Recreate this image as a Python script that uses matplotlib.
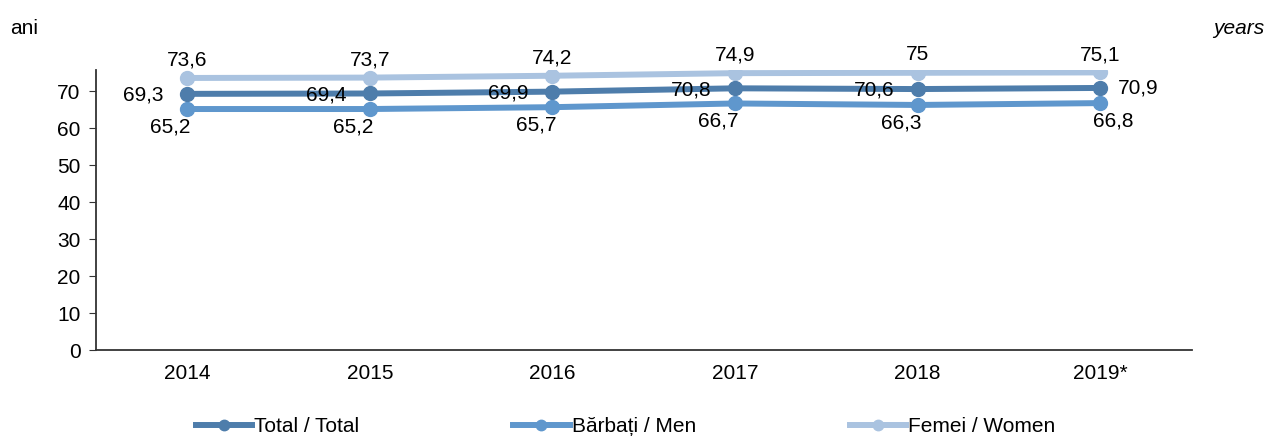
import matplotlib.pyplot as plt
import numpy as np

plt.rcParams['font.family'] = ['Liberation Sans', 'DejaVu Sans']

years = ['2014', '2015', '2016', '2017', '2018', '2019*']
total = [69.3, 69.4, 69.9, 70.8, 70.6, 70.9]
men = [65.2, 65.2, 65.7, 66.7, 66.3, 66.8]
women = [73.6, 73.7, 74.2, 74.9, 75.0, 75.1]

c_total = '#4e7dab'
c_men = '#5f97cd'
c_women = '#aac3e0'

def fmt(v):
    s = ('%.1f' % v).replace('.', ',')
    return s[:-2] if s.endswith(',0') else s

fig = plt.figure(figsize=(12.71, 4.36), dpi=100)
ax = fig.add_axes([0.0755, 0.197, 0.862, 0.642])
x = np.arange(len(years))

ax.plot(x, women, color=c_women, lw=4.3, marker='o', ms=10, label='Femei / Women', zorder=3)
ax.plot(x, total, color=c_total, lw=4.3, marker='o', ms=10, label='Total / Total', zorder=4)
ax.plot(x, men, color=c_men, lw=4.3, marker='o', ms=10, label='Bărbați / Men', zorder=3)

fs = 15
for i, v in enumerate(women):
    ax.annotate(fmt(v), (x[i], v), xytext=(0, 6), textcoords='offset points',
                ha='center', va='bottom', fontsize=fs, zorder=6)
for i, v in enumerate(men):
    dx = 9 if i == len(men) - 1 else -12
    ax.annotate(fmt(v), (x[i], v), xytext=(dx, -6), textcoords='offset points',
                ha='center', va='top', fontsize=fs, zorder=6)
for i, v in enumerate(total):
    if i == len(total) - 1:
        ax.annotate(fmt(v), (x[i], v), xytext=(13, 0), textcoords='offset points',
                    ha='left', va='center', fontsize=fs, zorder=6)
    else:
        ax.annotate(fmt(v), (x[i], v), xytext=(-17, -1), textcoords='offset points',
                    ha='right', va='center', fontsize=fs, zorder=6)

ax.set_xlim(-0.5, len(years) - 0.5)
ax.set_ylim(0, 75.7)
ax.set_yticks(range(0, 71, 10))
ax.set_xticks(x)
ax.set_xticklabels(years)
ax.tick_params(axis='both', labelsize=fs, color='#333333')
ax.tick_params(axis='x', length=0, pad=10)
ax.tick_params(axis='y', length=5, pad=6)
for s in ['top', 'right']:
    ax.spines[s].set_visible(False)
ax.spines['left'].set_color('#333333')
ax.spines['bottom'].set_color('#333333')
ax.spines['left'].set_linewidth(1.3)
ax.spines['bottom'].set_linewidth(1.3)

fig.text(0.008, 0.935, 'ani', fontsize=fs, va='center', ha='left')
fig.text(0.995, 0.935, 'years', fontsize=fs, va='center', ha='right', style='italic')

h, l = ax.get_legend_handles_labels()
order = [1, 2, 0]
fig.legend([h[k] for k in order], [l[k] for k in order], loc='center left',
           bbox_to_anchor=(0.154, 0.022), ncol=3, frameon=False, fontsize=fs,
           handlelength=2.7, handletextpad=0.1, columnspacing=7.4, markerscale=0.75,
           borderpad=0, borderaxespad=0)

fig.savefig('out.png', dpi=100)
